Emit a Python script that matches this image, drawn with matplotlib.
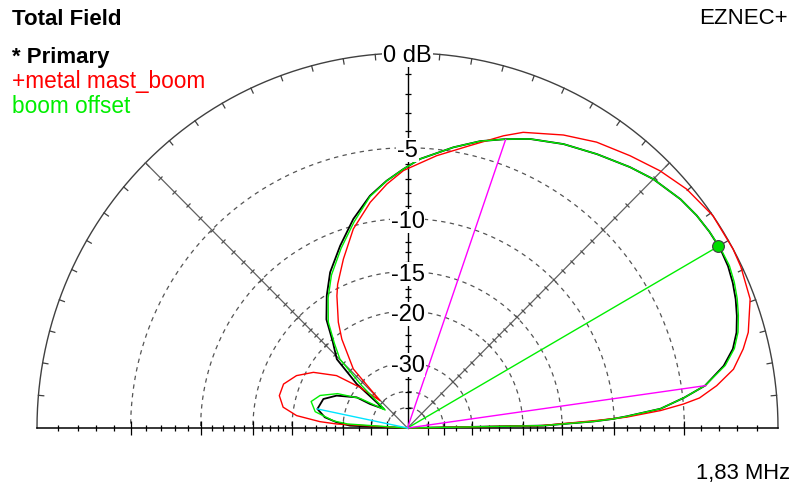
import numpy as np
import matplotlib
matplotlib.use('Agg')
import matplotlib.pyplot as plt
from matplotlib.markers import MarkerStyle
from matplotlib.transforms import Affine2D

plt.rcParams['font.family'] = ['Liberation Sans', 'DejaVu Sans']

# --- elevation pattern data (elevation deg, dB) ---
primary_el = [0, 1, 2, 2.5, 3, 4.3, 6.2, 8, 11, 13.5, 16, 18.6, 21.2, 23.8, 26.5,
              29.5, 32.7, 36, 39.6, 45, 49.2, 55, 60.9, 66.8, 71.1, 75.6, 80.6,
              87.3, 90.9, 94.9, 99.3, 104.7, 110.5, 116.7, 121.7, 127.1, 131.2,
              136.1, 139.4, 141.5, 147.7, 149.2, 155.7, 161.2, 168.2, 172.7,
              175.5, 177.7, 180]
primary_db = [-99, -17.2, -11.8, -10.1, -9.0, -6.5, -4.9, -3.6, -2.4, -1.75, -1.36,
              -1.1, -0.88, -0.71, -0.58, -0.52, -0.55, -0.62, -0.76, -1.09, -1.45,
              -1.97, -2.46, -3.02, -3.53, -4.05, -4.74, -5.68, -6.35, -7.09, -8.0,
              -9.46, -11.26, -13.15, -15.1, -17.4, -20.3, -22.8, -29.4, -43.0,
              -36.4, -31.5, -26.8, -24.5, -23.9, -25.6, -28.4, -32.0, -99]

offset_el = [0, 1, 2, 2.5, 3, 4.3, 6.2, 8, 11, 13.5, 16, 18.6, 21.2, 23.8, 26.5,
             29.5, 32.7, 36, 39.6, 45, 49.2, 55, 60.9, 66.8, 71.1, 75.6, 80.6,
             87.3, 90.9, 94.9, 99.3, 104.7, 110.5, 116.7, 121.7, 127.1, 131.2,
             134.8, 137.5, 141.5, 148.3, 154.1, 159.8, 164.8, 170.1, 174.6,
             176.2, 180]
offset_db = [-99, -17.2, -11.8, -10.1, -9.0, -6.5, -4.9, -3.6, -2.32, -1.67, -1.28,
             -1.02, -0.8, -0.63, -0.51, -0.5, -0.55, -0.62, -0.76, -1.09, -1.45,
             -1.97, -2.46, -3.02, -3.53, -4.05, -4.74, -5.68, -6.35, -7.1, -8.05,
             -9.7, -11.5, -13.45, -15.4, -17.8, -20.7, -23.2, -30.4, -44.0,
             -32.6, -26.8, -23.7, -22.5, -23.6, -27.6, -31.2, -99]

mast_el = [0, 1, 2.2, 2.8, 3.9, 4.9, 5.8, 7.7, 10.1, 13.1, 15.5, 20.4, 25.5, 28.5,
           34.5, 40.2, 45.2, 50.4, 56.2, 61.7, 68.4, 71.6, 77.4, 83.8, 90.9, 94.9,
           99.5, 105.4, 111, 116.2, 118.4, 123.5, 126.8, 132.9, 135.5, 139.8,
           143.9, 149.7, 155, 160.7, 166, 170.6, 173.7, 175.9, 176.8, 180]
mast_db = [-99, -17.5, -11.8, -9.0, -6.5, -5.0, -4.0, -2.95, -1.93, -1.24, -0.8,
           -0.23, -0.05, 0.0, 0.0, -0.23, -0.58, -1.02, -1.48, -2.05, -2.83, -3.38,
           -4.45, -5.39, -6.45, -7.32, -8.48, -10.24, -12.5, -14.6, -15.7, -18.6,
           -20.9, -26.4, -38.8, -30.6, -24.7, -21.0, -19.0, -17.8, -17.7, -18.5,
           -20.6, -24.7, -28.4, -99]

cursor_el, cursor_db = 30.0, -0.55
bw_el = [8.0, 71.0]
bw_db = [-3.55, -3.55]
back_el, back_db = 168.2, -23.9

ring_db = [-5, -10, -15, -20, -30, -40, -50]
ring_labels = ['-5', '-10', '-15', '-20', '-30']
tick_db = list(range(-1, -21, -1)) + [-22, -24, -26, -28, -30, -35, -40, -50]


# ARRL log scale: 0.89 per 2 dB
def db_to_r(db):
    return 0.89 ** (-np.asarray(db, dtype=float) / 2.0)


def r_to_db(r):
    return -2.0 * np.log(np.clip(r, 1e-12, None)) / np.log(0.89)


W, H = 802, 485
fig = plt.figure(figsize=(W / 100, H / 100), dpi=100)
# half disc sits in the middle half of the polar box
cx, cy, rx, ry = 407.5, 56.0, 370.5, 375.0
ax = fig.add_axes([(cx - rx) / W, (cy - ry / 2) / H, 2 * rx / W, 2 * ry / H],
                  projection='polar')
ax.set_aspect('auto')
ax.set_thetamin(0)
ax.set_thetamax(180)
ax.set_rscale('function', functions=(db_to_r, r_to_db))
ax.set_rlim(-200, 0)
ax.set_axis_off()

d2r = np.pi / 180
th = np.linspace(0, np.pi, 361)
kw = dict(clip_on=False)

# grid rings and outer circle
for db in ring_db:
    ax.plot(th, np.full_like(th, db), color='#555555', lw=0.9,
            ls=(0, (3.5, 3.5)), **kw)
ax.plot(th, np.zeros_like(th), color='#404040', lw=1.0, **kw)
for a in range(5, 180, 5):
    ax.plot([a * d2r] * 2, [-0.25, 0], color='#404040', lw=0.9, **kw)

# radial axes
ax.plot([0, 0], [-200, 0], color='black', lw=1.1, **kw)
ax.plot([np.pi, np.pi], [-200, 0], color='black', lw=1.1, **kw)
ax.plot([np.pi / 2] * 2, [-200, 0], color='black', lw=1.0, **kw)
ax.plot([np.pi / 4] * 2, [-200, 0], color='#606060', lw=0.9, **kw)
ax.plot([3 * np.pi / 4] * 2, [-200, 0], color='#606060', lw=0.9, **kw)

# ticks along the axes
minor = [d for d in tick_db if d not in ring_db]
for ang in (0, np.pi):
    ax.plot([ang] * len(minor), minor, ls='none', marker='|', ms=5,
            mew=0.9, color='black', **kw)
    ax.plot([ang] * len(ring_db), ring_db, ls='none', marker='|', ms=10,
            mew=0.9, color='black', **kw)
ax.plot([np.pi / 2] * len(tick_db), tick_db, ls='none', marker='_', ms=4,
        mew=0.9, color='black', **kw)
for ang, rot in ((np.pi / 4, 45), (3 * np.pi / 4, -45)):
    m = MarkerStyle('|', transform=Affine2D().rotate_deg(rot))
    ax.plot([ang] * len(tick_db), tick_db, ls='none', marker=m, ms=5,
            mew=0.9, color='#505050', **kw)

# pattern traces
ax.plot(np.array(primary_el) * d2r, primary_db, color='black', lw=1.3, zorder=4, **kw)
ax.plot(np.array(mast_el) * d2r, mast_db, color='#ff0000', lw=1.0, zorder=4, **kw)
ax.plot(np.array(offset_el) * d2r, offset_db, color='#00ee00', lw=1.0, zorder=5, **kw)

# cursor, beamwidth and back lobe lines
ax.plot([cursor_el * d2r] * 2, [-200, cursor_db], color='#00ee00', lw=1.0, zorder=6, **kw)
for e, d in zip(bw_el, bw_db):
    ax.plot([e * d2r] * 2, [-200, d], color='#ff00ff', lw=1.0, zorder=6, **kw)
ax.plot([back_el * d2r] * 2, [-200, back_db], color='#00e5ff', lw=1.0, zorder=6, **kw)
ax.plot([cursor_el * d2r], [cursor_db], marker='o', ms=8.5, mfc='#00dd00',
        mec='#404040', mew=0.8, zorder=7, **kw)

# scale labels
box = dict(facecolor='white', edgecolor='none', pad=0.6)
ax.text(np.pi / 2, 0, '0 dB', ha='center', va='center_baseline', fontsize=17,
        bbox=box, zorder=10)
for db, lab in zip(ring_db, ring_labels):
    ax.text(np.pi / 2, db, lab, ha='center', va='center_baseline', fontsize=17,
            bbox=box, zorder=10)

# header and legend texts
def ftext(x, y, s, **k):
    fig.text(x / W, 1 - y / H, s, va='baseline', **k)

ftext(12, 25, 'Total Field', fontsize=16, fontweight='bold')
ftext(12, 63, '* Primary', fontsize=16, fontweight='bold')
ftext(12, 88, '+metal mast_boom', fontsize=16.3, color='#ff0000')
ftext(12, 113, 'boom offset', fontsize=16.3, color='#00ee00')
ftext(788, 24, 'EZNEC+', fontsize=16, ha='right')
ftext(790, 479, '1,83 MHz', fontsize=15.8, ha='right')

fig.savefig('out.png', dpi=100, facecolor='white')
